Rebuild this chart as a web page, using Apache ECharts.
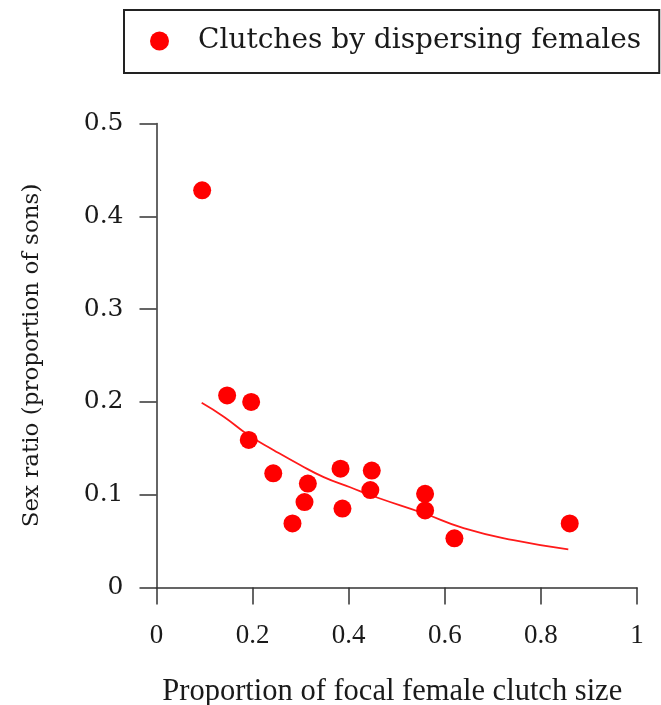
<!DOCTYPE html>
<html>
<head>
<meta charset="utf-8">
<script src="https://cdn.jsdelivr.net/npm/echarts@6/dist/echarts.min.js"></script>
<style>
html,body{margin:0;padding:0;background:#fff;}
#chart{width:661px;height:705px;}
</style>
</head>
<body>
<div id="chart"></div>
<script>
// Observed points: proportion of focal female clutch size (x) vs sex ratio (y)
const pointX = [0.095, 0.147, 0.197, 0.192, 0.243, 0.315, 0.308, 0.283, 0.383, 0.387, 0.448, 0.445, 0.559, 0.559, 0.620, 0.860];
const pointY = [0.428, 0.207, 0.200, 0.159, 0.123, 0.112, 0.092, 0.069, 0.128, 0.085, 0.126, 0.105, 0.101, 0.083, 0.053, 0.069];
// Fitted curve
const curveX = [0.094, 0.140, 0.192, 0.244, 0.299, 0.348, 0.403, 0.459, 0.556, 0.639, 0.743, 0.857];
const curveY = [0.199, 0.184, 0.164, 0.148, 0.132, 0.119, 0.108, 0.097, 0.080, 0.064, 0.051, 0.041];
const xTicks = [0, 0.2, 0.4, 0.6, 0.8, 1];
const yTicks = [0, 0.1, 0.2, 0.3, 0.4, 0.5];
const seriesName = 'Clutches by dispersing females';
const xTitle = 'Proportion of focal female clutch size';
const yTitle = 'Sex ratio (proportion of sons)';

const chart = echarts.init(document.getElementById('chart'), null, {renderer: 'canvas'});
const axisCol = '#333';
const txtCol = '#1a1a1a';
chart.setOption({
  animation: false,
  backgroundColor: '#fff',
  grid: {left: 156.5, right: 24, top: 123.5, bottom: 117.5, containLabel: false, outerBoundsMode: 'none'},
  legend: {
    left: 124, top: 10,
    data: [{name: seriesName, icon: 'circle'}],
    itemWidth: 19, itemHeight: 19,
    borderColor: '#222', borderWidth: 2,
    padding: [15, 18, 16, 26],
    textStyle: {fontFamily: 'DejaVu Serif', fontSize: 28, color: txtCol, padding: [0, 0, 0, 24], lineHeight: 32},
    selectedMode: false
  },
  xAxis: {
    type: 'value', min: xTicks[0], max: xTicks[xTicks.length - 1], interval: 0.2,
    axisLine: {show: true, onZero: true, lineStyle: {color: axisCol, width: 1.5}},
    axisTick: {show: true, inside: false, length: 17, lineStyle: {color: axisCol, width: 1.5}},
    axisLabel: {margin: 35, fontFamily: 'Liberation Serif', fontSize: 27, color: txtCol},
    splitLine: {show: false},
    name: xTitle, nameLocation: 'middle', nameGap: 89,
    nameTextStyle: {fontFamily: 'Liberation Serif', fontSize: 30.5, color: txtCol, padding: [0, 9, 0, 0]}
  },
  yAxis: {
    type: 'value', min: yTicks[0], max: yTicks[yTicks.length - 1], interval: 0.1,
    axisLine: {show: true, lineStyle: {color: axisCol, width: 1.5}},
    axisTick: {show: true, inside: false, length: 17, lineStyle: {color: axisCol, width: 1.5}},
    axisLabel: {margin: 33, fontFamily: 'DejaVu Serif', fontSize: 25, color: txtCol},
    splitLine: {show: false},
    name: yTitle, nameLocation: 'middle', nameGap: 113, nameRotate: 90,
    nameTextStyle: {fontFamily: 'DejaVu Serif', fontSize: 23, color: txtCol}
  },
  series: [
    {
      type: 'line', name: 'fit', data: curveX.map((x, i) => [x, curveY[i]]),
      smooth: true, showSymbol: false, symbol: 'none',
      lineStyle: {color: '#ff1a1a', width: 1.8}, z: 2, silent: true
    },
    {
      type: 'scatter', name: seriesName, data: pointX.map((x, i) => [x, pointY[i]]),
      symbol: 'circle', symbolSize: 18,
      itemStyle: {color: '#ff0000', opacity: 1}, z: 3
    }
  ]
});
</script>
</body>
</html>
